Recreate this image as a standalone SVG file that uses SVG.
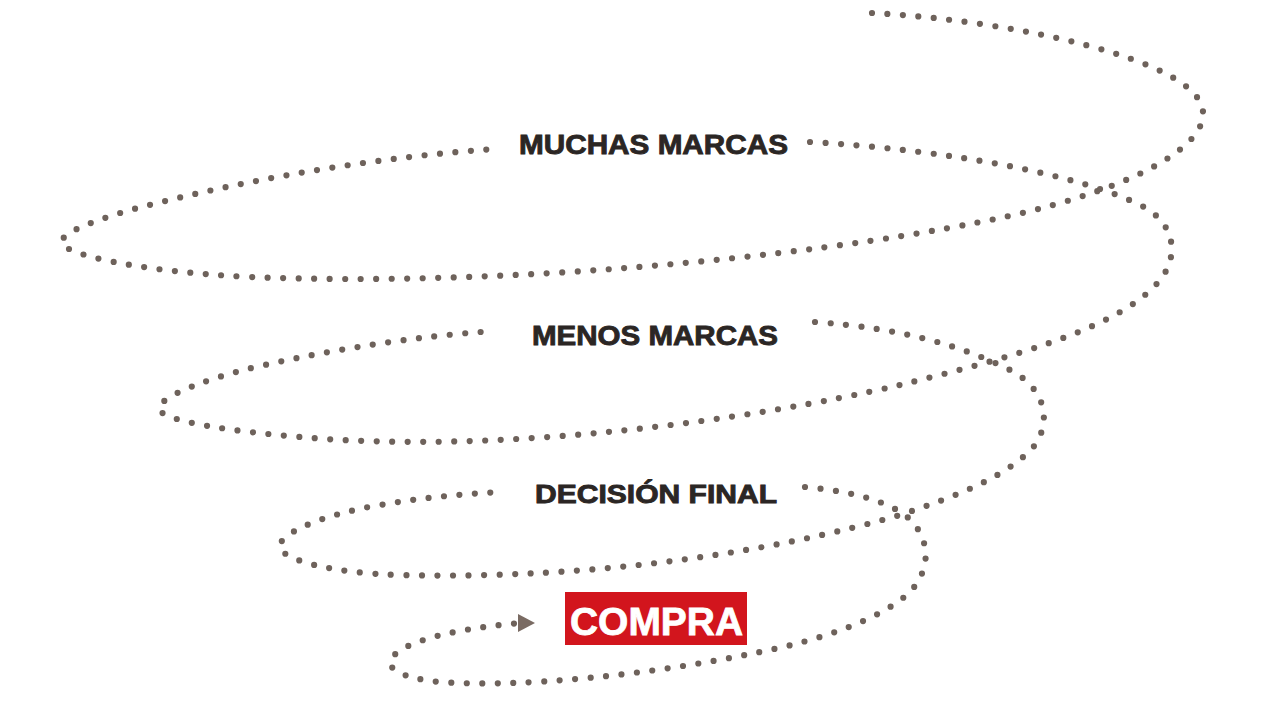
<svg xmlns="http://www.w3.org/2000/svg" width="1280" height="720" viewBox="0 0 1280 720">
  <style>
    .dots { fill: none; stroke: #6e625b; stroke-width: 6.2; stroke-linecap: round; stroke-dasharray: 0 15.5; }
    .lbl { font-family: "Liberation Sans", Arial, sans-serif; font-weight: bold; fill: #2b2624; stroke: #2b2624; stroke-width: 0.9; }
    .buy { font-family: "Liberation Sans", Arial, sans-serif; font-weight: bold; fill: #ffffff; stroke: #ffffff; stroke-width: 0.8; }
  </style>
  <rect width="1280" height="720" fill="#ffffff"/>
  <g id="connectors">
    <path class="dots" d="M 872 13 C 1010 20, 1200 60, 1203 112 C 1206 150, 1120 195, 980 222 C 800 258, 500 287, 250 277 C 150 272, 80 258, 64 246 C 52 236, 90 222, 130 210 C 250 178, 380 157, 494 149"/>
    <path class="dots" d="M 810 142 C 950 150, 1080 175, 1140 205 C 1175 222, 1180 255, 1160 280 C 1120 330, 1000 360, 900 385 C 750 420, 500 455, 300 437 C 230 431, 170 422, 160 411 C 152 400, 200 380, 260 366 C 340 348, 420 336, 494 331"/>
    <path class="dots" d="M 815 322 C 900 328, 960 345, 1010 370 C 1045 388, 1052 420, 1035 445 C 1010 475, 960 495, 900 515 C 780 550, 600 580, 400 575 C 330 573, 285 560, 280 548 C 276 535, 320 515, 380 505 C 420 498, 460 494, 502 492"/>
    <path class="dots" d="M 805 487 C 860 492, 900 505, 915 525 C 930 545, 930 570, 910 592 C 880 620, 820 640, 760 652 C 650 675, 520 688, 440 682 C 400 678, 385 668, 392 658 C 400 645, 440 630, 520 623"/>
    <polygon points="518,614 535,623 518,632" fill="#7a6b63"/>
  </g>
  <g id="muchas-marcas">
    <text class="lbl" x="519" y="154" font-size="28" textLength="269" lengthAdjust="spacingAndGlyphs">MUCHAS MARCAS</text>
  </g>
  <g id="menos-marcas">
    <text class="lbl" x="532" y="345" font-size="28" textLength="246" lengthAdjust="spacingAndGlyphs">MENOS MARCAS</text>
  </g>
  <g id="decision-final">
    <text class="lbl" x="535" y="503" font-size="26" textLength="242" lengthAdjust="spacingAndGlyphs">DECISIÓN FINAL</text>
  </g>
  <g id="compra">
    <rect x="565" y="592" width="182" height="53" fill="#d2151d"/>
    <text class="buy" x="570" y="635" font-size="38" textLength="173" lengthAdjust="spacingAndGlyphs">COMPRA</text>
  </g>
</svg>
